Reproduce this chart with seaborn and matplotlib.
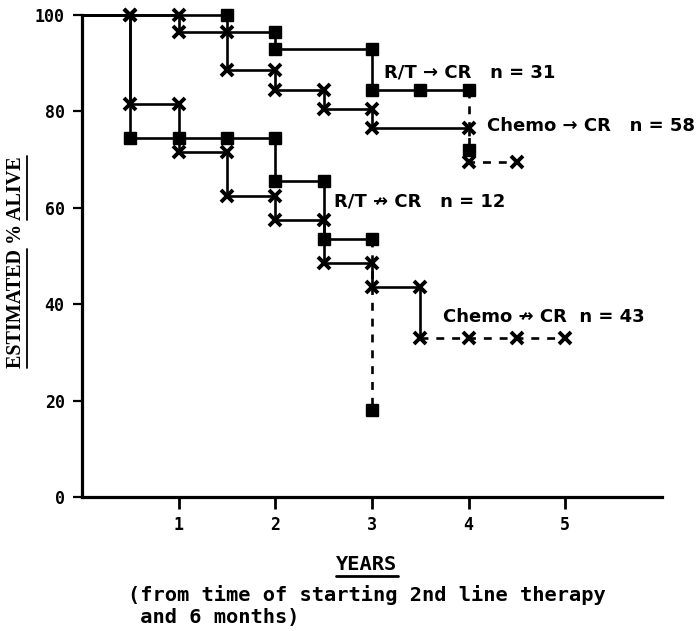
import matplotlib
matplotlib.use("Agg")
import matplotlib.pyplot as plt
from matplotlib.lines import Line2D
import pandas as pd
import seaborn as sns

sns.set_theme(style="ticks")
plt.rcParams["font.family"] = ["DejaVu Sans", "Noto Sans"]

# Kaplan-Meier step vertices: years vs estimated % alive
rt_cr_x = [0, 1.5, 1.5, 2, 2, 3, 3, 3.5, 4]
rt_cr_y = [100, 100, 96.5, 96.5, 93, 93, 84.5, 84.5, 84.5]
rt_cr_tail_x = [4, 4]
rt_cr_tail_y = [84.5, 72]

chemo_cr_x = [0, 0.5, 1, 1, 1.5, 1.5, 2, 2, 2.5, 2.5, 3, 3, 4]
chemo_cr_y = [100, 100, 100, 96.5, 96.5, 88.5, 88.5, 84.5, 84.5, 80.5, 80.5, 76.5, 76.5]
chemo_cr_tail_x = [4, 4, 4.5]
chemo_cr_tail_y = [76.5, 69.5, 69.5]

rt_ncr_x = [0, 0.5, 0.5, 1, 1.5, 2, 2, 2.5, 2.5, 3]
rt_ncr_y = [100, 100, 74.5, 74.5, 74.5, 74.5, 65.5, 65.5, 53.5, 53.5]
rt_ncr_tail_x = [3, 3]
rt_ncr_tail_y = [53.5, 18]

chemo_ncr_x = [0, 0.5, 0.5, 1, 1, 1.5, 1.5, 2, 2, 2.5, 2.5, 3, 3, 3.5, 3.5]
chemo_ncr_y = [100, 100, 81.5, 81.5, 71.5, 71.5, 62.5, 62.5, 57.5, 57.5, 48.5, 48.5, 43.5, 43.5, 33]
chemo_ncr_tail_x = [3.5, 4, 4.5, 5]
chemo_ncr_tail_y = [33, 33, 33, 33]

curve_labels = ["R/T \u2192 CR   n = 31", "Chemo \u2192 CR   n = 58",
                "R/T \u219b CR   n = 12", "Chemo \u219b CR  n = 43"]
x_ticks = [1, 2, 3, 4, 5]
y_ticks = [0, 20, 40, 60, 80, 100]

fig = plt.figure(figsize=(7, 6.31), dpi=100)
ax = fig.add_axes([82 / 700, 1 - 497 / 631, 580 / 700, 482 / 631])

SQUARE = dict(marker="s", ms=9.2, mfc="black", mec="black", mew=1)
CROSS = dict(marker="x", ms=9.2, mec="black", mew=2.8)


def step(x, y, style, every, dashed=False):
    df = pd.DataFrame({"years": x, "alive": y})
    sns.lineplot(data=df, x="years", y="alive", sort=False, estimator=None,
                 ax=ax, color="black", lw=1.9,
                 linestyle=(0, (3, 3)) if dashed else "-",
                 markevery=every, clip_on=False, **style)


step(rt_cr_x, rt_cr_y, SQUARE, [1, 3, 4, 5, 6, 7, 8])
step(rt_cr_tail_x, rt_cr_tail_y, SQUARE, [1], dashed=True)
step(rt_ncr_x, rt_ncr_y, SQUARE, [2, 3, 4, 5, 6, 7, 8, 9])
step(rt_ncr_tail_x, rt_ncr_tail_y, SQUARE, [1], dashed=True)
step(chemo_cr_x, chemo_cr_y, CROSS, list(range(1, len(chemo_cr_x))))
step(chemo_cr_tail_x, chemo_cr_tail_y, CROSS, [1, 2], dashed=True)
step(chemo_ncr_x, chemo_ncr_y, CROSS, list(range(1, len(chemo_ncr_x))))
step(chemo_ncr_tail_x, chemo_ncr_tail_y, CROSS, [1, 2, 3], dashed=True)

label_xy = [(3.12, 88.0), (4.19, 77.0), (2.61, 61.4), (3.73, 37.3)]
for (lx, ly), s in zip(label_xy, curve_labels):
    ax.text(lx, ly, s, ha="left", va="center", fontsize=13,
            fontweight="bold", color="black", clip_on=False)

ax.set_xlim(0, 6)
ax.set_ylim(0, 100)
ax.set_xticks(x_ticks)
ax.set_yticks(y_ticks)
ax.set_xticklabels([str(v) for v in x_ticks])
ax.set_yticklabels([str(v) for v in y_ticks])
ax.set_xlabel("")
ax.set_ylabel("")
for lab in ax.get_xticklabels() + ax.get_yticklabels():
    lab.set_fontfamily("DejaVu Sans Mono")
    lab.set_fontweight("bold")
    lab.set_fontsize(12)
    lab.set_color("black")
ax.tick_params(axis="y", length=6.5, width=1.6, pad=6, color="black")
ax.tick_params(axis="x", length=8.5, width=2, pad=5, color="black")
sns.despine(ax=ax)
for side in ("left", "bottom"):
    ax.spines[side].set_linewidth(2.3)
    ax.spines[side].set_color("black")
ax.patch.set_alpha(0)

# axis titles drawn as figure text so they can carry underlines
ylab = fig.text(16 / 700, 1 - 262 / 631, "ESTIMATED % ALIVE", rotation=90,
                ha="center", va="center", fontfamily="Liberation Serif",
                fontweight="bold", fontsize=14.5, color="black")
years = fig.text(367 / 700, 1 - 565 / 631, "YEARS", ha="center", va="center",
                 fontfamily="DejaVu Sans Mono", fontweight="bold",
                 fontsize=14.7, color="black")
fig.text(128 / 700, 1 - 595 / 631, "(from time of starting 2nd line therapy",
         ha="left", va="center", fontfamily="DejaVu Sans Mono",
         fontweight="bold", fontsize=14.7, color="black")
fig.text(128 / 700, 1 - 618 / 631, " and 6 months)",
         ha="left", va="center", fontfamily="DejaVu Sans Mono",
         fontweight="bold", fontsize=14.7, color="black")

fig.canvas.draw()
renderer = fig.canvas.get_renderer()
W, H = fig.bbox.width, fig.bbox.height


def word_len(s, txt):
    w, _, _ = renderer.get_text_width_height_descent(
        s, txt.get_fontproperties(), ismath=False)
    return w


yb = ylab.get_window_extent(renderer)
ux = (yb.x1 + 1) / W
w_est = word_len("ESTIMATED", ylab)
w_alive = word_len("ALIVE", ylab)
fig.add_artist(Line2D([ux, ux], [yb.y0 / H, (yb.y0 + w_est) / H],
                      transform=fig.transFigure, color="black", lw=1.3))
fig.add_artist(Line2D([ux, ux], [(yb.y1 - w_alive) / H, yb.y1 / H],
                      transform=fig.transFigure, color="black", lw=1.3))

xb = years.get_window_extent(renderer)
uy = (xb.y0 - 1) / H
fig.add_artist(Line2D([xb.x0 / W, xb.x1 / W], [uy, uy],
                      transform=fig.transFigure, color="black", lw=2))

fig.savefig("out.png", dpi=100, facecolor="white")
